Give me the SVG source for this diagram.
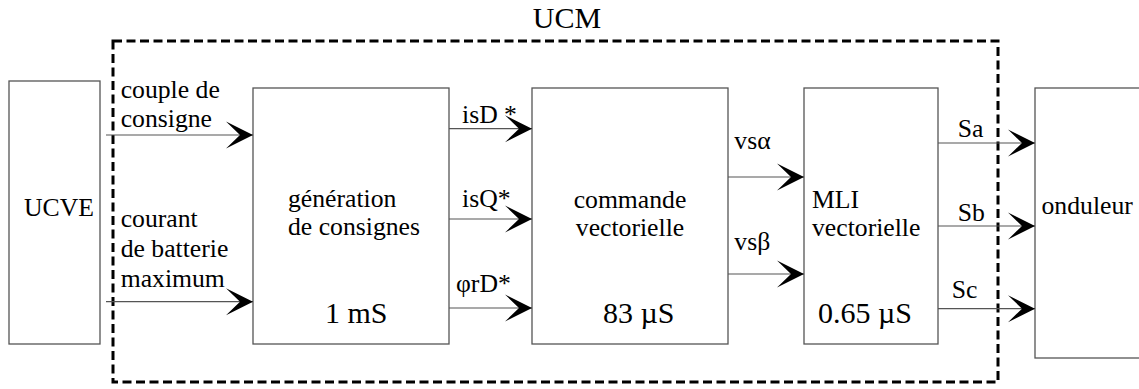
<svg xmlns="http://www.w3.org/2000/svg" width="1139" height="389" viewBox="0 0 1139 389">
  <style>
    .box { fill: #ffffff; stroke: #555555; stroke-width: 1.3; }
    .wire { stroke: #555555; stroke-width: 1.2; fill: none; }
    .frame { fill: none; stroke: #000000; stroke-width: 3; stroke-dasharray: 9 4.5; }
    text { font-family: Liberation Serif, Tinos, Times New Roman, Times, serif; font-style: normal; fill: #000000; }
    .lbl { font-size: 25.7px; }
    .big { font-size: 30px; }
  </style>
  <defs>
    <marker id="head" viewBox="-28 -14 29 28" refX="0" refY="0" markerWidth="29" markerHeight="28" markerUnits="userSpaceOnUse" orient="auto">
      <path d="M0,0 L-27,-13.5 L-13,0 L-27,13.5 Z" fill="#000000"/>
    </marker>
  </defs>

  <rect width="1139" height="389" fill="#ffffff"/>

  <!-- UCM controller boundary -->
  <g id="ucm">
    <rect class="frame" x="113" y="41" width="885" height="341"/>
    <text class="big" x="567" y="28" text-anchor="middle">UCM</text>
  </g>

  <g id="ucve">
    <rect class="box" x="9" y="81" width="91" height="263"/>
    <text class="lbl" x="24" y="216">UCVE</text>
  </g>

  <g id="generation">
    <rect class="box" x="253" y="88" width="196" height="256"/>
    <text class="lbl" x="288" y="207">génération</text>
    <text class="lbl" x="288" y="235">de consignes</text>
    <text class="big" x="325" y="323">1 mS</text>
  </g>

  <g id="commande">
    <rect class="box" x="532" y="88" width="196" height="256"/>
    <text class="lbl" x="630" y="207.7" text-anchor="middle">commande</text>
    <text class="lbl" x="630" y="235.7" text-anchor="middle">vectorielle</text>
    <text class="big" x="603" y="323">83 µS</text>
  </g>

  <g id="mli">
    <rect class="box" x="804" y="88" width="134" height="256"/>
    <text class="lbl" x="812" y="207.7">MLI</text>
    <text class="lbl" x="812" y="236">vectorielle</text>
    <text class="big" x="818" y="322.7">0.65 µS</text>
  </g>

  <g id="onduleur">
    <rect class="box" x="1035" y="88" width="110" height="270"/>
    <text class="lbl" x="1041.5" y="214.3">onduleur</text>
  </g>

  <!-- signal connectors -->
  <g id="connectors">
    <line class="wire" x1="106" y1="135" x2="253" y2="135" marker-end="url(#head)"/>
    <line class="wire" x1="106" y1="301.7" x2="253" y2="301.7" marker-end="url(#head)"/>
    <line class="wire" x1="449" y1="128.7" x2="532" y2="128.7" marker-end="url(#head)"/>
    <line class="wire" x1="449" y1="219" x2="532" y2="219" marker-end="url(#head)"/>
    <line class="wire" x1="449" y1="308" x2="532" y2="308" marker-end="url(#head)"/>
    <line class="wire" x1="728" y1="177" x2="804" y2="177" marker-end="url(#head)"/>
    <line class="wire" x1="728" y1="274" x2="804" y2="274" marker-end="url(#head)"/>
    <line class="wire" x1="938" y1="143" x2="1035" y2="143" marker-end="url(#head)"/>
    <line class="wire" x1="938" y1="226" x2="1035" y2="226" marker-end="url(#head)"/>
    <line class="wire" x1="938" y1="308.7" x2="1035" y2="308.7" marker-end="url(#head)"/>

    <text class="lbl" x="120.7" y="97.7">couple de</text>
    <text class="lbl" x="120.7" y="126.7">consigne</text>
    <text class="lbl" x="120.7" y="226.7">courant</text>
    <text class="lbl" x="120.7" y="257">de batterie</text>
    <text class="lbl" x="120.7" y="286.7">maximum</text>
    <text class="lbl" x="462" y="123.3">isD *</text>
    <text class="lbl" x="462" y="206.7">isQ*</text>
    <text class="lbl" x="456" y="292">φrD*</text>
    <text class="lbl" x="734.3" y="148.7">vsα</text>
    <text class="lbl" x="734.3" y="250">vsβ</text>
    <text class="lbl" x="957.7" y="137.3">Sa</text>
    <text class="lbl" x="957.7" y="220.7">Sb</text>
    <text class="lbl" x="951.7" y="297.7">Sc</text>
  </g>
</svg>
